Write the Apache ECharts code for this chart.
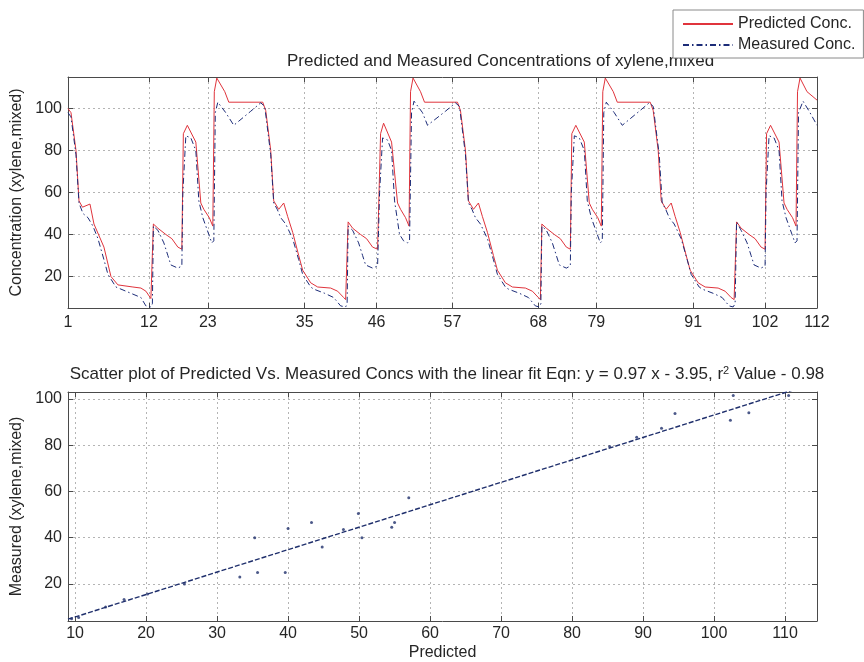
<!DOCTYPE html>
<html>
<head>
<meta charset="UTF-8">
<title>Predicted and Measured Concentrations of xylene,mixed</title>
<style>html,body{margin:0;padding:0;background:#fff;}</style>
</head>
<body>
<div id="main" style="width:864px;height:662px;"></div>
<script src="https://cdn.jsdelivr.net/npm/echarts@6/dist/echarts.min.js"></script>
<script>
// top chart: sample axis (arbitrary units 0..150), labels as printed on the figure
var sampleTickPos = [0, 16.2, 28, 47.4, 61.8, 77, 94.2, 105.8, 125.2, 139.6, 150];
var sampleTickLabels = ['1', '12', '23', '35', '46', '57', '68', '79', '91', '102', '112'];
var concTicks = [20, 40, 60, 80, 100];

// [sample, concentration]
var predicted = [
  [0,100],[0.6,98],[1.6,80],[2.2,56],[2.9,53],[4.4,54.5],[5.2,45],[7.2,34],[8.6,20],[10,16],[13,15],[14.6,14.5],[15.6,13],[16.6,9.5],
  [17.1,45],[18,43],[19.6,40],[20.8,38],[22,34],[22.8,33],[23.1,88],[23.9,92],[25.6,84],[26.6,55],[27.2,52],[28.3,48],[29,44],[29.3,108],[29.8,114.5],[31.4,108],[32.2,103],[39,103],[39.6,99],[40.6,80],[41.2,56],[42.2,52],[43.2,55],[44,48.5],[45,41],[46.2,30],[47,23],[48.6,17],[50,15],[52.6,14.5],[54,13],[55.2,10],[55.6,9],
  [56.1,46],[57,43],[58.6,40],[59.8,38],[61,34],[62,33],[62.6,88],[63.2,93],[64.8,84],[66,55],[66.6,52],[67.6,48],[68.3,44],[68.6,108],[69.1,114.5],[70.6,108],[71.4,103],[78,103],[78.6,99],[79.6,80],[80.2,56],[81.2,52],[82.2,55],[83,48.5],[84,41],[85.2,30],[86,23],[87.6,17],[89,15],[91.6,14.5],[93,13],[94.2,10],[94.6,9],
  [94.9,45],[95.8,43],[97.4,40],[98.6,38],[99.8,34],[100.6,33],[100.9,88],[101.7,92],[103.4,84],[104.4,55],[105,52],[106.1,48],[106.8,44],[107.1,108],[107.6,114.5],[109.2,108],[110,103],[116.6,103],[117.2,99],[118.2,80],[118.8,56],[119.8,52],[120.8,55],[121.6,48.5],[122.6,41],[123.8,30],[124.6,23],[126.2,17],[127.6,15],[130.2,14.5],[131.6,13],[132.8,10],[133.4,9],
  [133.9,46],[134.8,43],[136.4,40],[137.6,38],[138.8,34],[139.6,33],[139.9,88],[140.7,92],[142.4,84],[143.4,55],[144,52],[145.1,48],[145.8,44],[146.1,108],[146.6,114.5],[148,108],[150,104]
];
var measured = [
  [0,98],[0.6,96],[1.6,78],[2.2,55],[3,50],[4,48],[5,44],[6,38],[7.2,28],[8,21],[9.6,15],[10.6,14],[12.6,12],[14.6,10],[15.6,6],[16.6,5.5],[16.9,7],
  [17.1,44],[18,42],[19.2,36],[20,30],[20.6,25.5],[22,24],[22.8,25],[23,60],[23.6,87],[24.6,86],[25.6,80],[26.2,56],[27,48],[28.2,40],[28.8,36],[29.2,37],[29.5,98],[30,103],[31.6,98],[33.2,92],[36.6,98.7],[38.6,102.7],[39.4,101],[40.6,78],[41.2,55],[41.9,52],[42.6,48],[43.6,45],[45,38],[46.2,28],[47,21],[48.6,15],[49.2,14],[51.4,12],[53.2,10],[54.6,6],[55.6,5.5],[55.9,7],
  [56.1,44],[57,42],[58.2,36],[59,30],[59.6,25.5],[61,24],[62,25],[62.4,60],[63,86],[64,85],[64.8,80],[65.4,56],[66.4,40],[67.2,37],[68,36],[68.4,37],[68.8,98],[69.3,103.5],[71,98],[72,92],[75.6,98.7],[77.6,102.7],[78.4,101],[79.6,78],[80.2,55],[80.9,52],[81.6,48],[82.6,45],[84,38],[85.2,28],[86,21],[87.6,15],[88.2,14],[90.4,12],[92.2,10],[93.6,6],[94.4,5.5],[94.7,7],
  [94.9,44],[95.8,42],[97,36],[97.8,30],[98.4,25.5],[99.8,24],[100.6,25],[100.8,60],[101.4,87],[102.4,86],[103.4,80],[104,56],[104.8,48],[106,40],[106.6,36],[107,37],[107.3,98],[107.8,103],[109.4,98],[111,92],[114.4,98.7],[116.4,102.7],[117.2,101],[118.4,78],[119,55],[119.7,52],[120.4,48],[121.4,45],[122.8,38],[124,28],[124.8,21],[126.4,15],[127,14],[129.2,12],[131,10],[132.4,6],[133.2,5.5],[133.6,7],
  [133.9,46],[134.8,42],[136,36],[136.8,30],[137.4,25.5],[138.8,24],[139.6,25],[139.8,60],[140.4,87],[141.4,86],[142.4,80],[143,56],[143.8,48],[145,40],[145.6,36],[146,37],[146.3,98],[147.2,103.5],[148.6,98],[150,92]
];

// bottom chart: [predicted, measured] pairs and the fit line end points
var scatterPts = [
  [9.5,5],[10.5,5.5],[14.3,10],[16.9,13.3],[20.2,15.7],[25.4,20],[33.2,23],[35.3,40],[35.7,25],[39.6,25],
  [40,44],[43.3,46.6],[44.8,36],[47.8,43.6],[49.9,50.5],[50.4,40],[54.6,44.5],[55,46.6],[57,57.3],
  [85.3,79.4],[89.1,83.4],[92.6,87.3],[94.5,93.7],[102.3,90.8],[102.7,101.5],[104.9,94],[110.5,101.5]
];
var fitLine = [[9, 4.78], [114.5, 107.12]];
var predTicks = [10, 20, 30, 40, 50, 60, 70, 80, 90, 100, 110];
var measTicks = [20, 40, 60, 80, 100];

var txt = '#262626';
var frame = '#4a4a4a';
var font = 'Liberation Sans';

function tickLabel(v) {
  for (var i = 0; i < sampleTickPos.length; i++) {
    if (Math.abs(sampleTickPos[i] - v) < 0.01) return sampleTickLabels[i];
  }
  return '';
}

function axis(o) {
  var a = {
    type: 'value', gridIndex: o.grid, position: o.pos, min: o.min, max: o.max,
    name: o.name || '', nameLocation: 'middle', nameGap: o.nameGap || 0,
    nameTextStyle: {fontSize: 16, color: txt, fontFamily: font},
    axisLine: {show: true, onZero: false, lineStyle: {color: frame, width: 1}},
    axisTick: {show: true, inside: true, length: 5, customValues: o.ticks, lineStyle: {color: frame}},
    axisLabel: {show: !o.mirror, customValues: o.ticks, fontSize: 16, color: txt, fontFamily: font, margin: o.margin || 6},
    splitLine: {show: !o.mirror, lineStyle: {type: [2, 3], color: '#b4b4b4', width: 1}}
  };
  if (o.fmt) a.axisLabel.formatter = o.fmt;
  return a;
}

var chart = echarts.init(document.getElementById('main'));
chart.setOption({
  backgroundColor: '#fff',
  animation: false,
  title: [
    {text: 'Predicted and Measured Concentrations of xylene,mixed', left: 282, top: 48, z: 2,
      textStyle: {fontSize: 17, fontWeight: 'normal', color: txt, fontFamily: font}},
    {text: 'Scatter plot of Predicted Vs. Measured Concs with the linear fit Eqn: y = 0.97 x - 3.95, r{s|2} Value - 0.98',
      left: 442, textAlign: 'center', top: 360, z: 2,
      textStyle: {fontSize: 17, fontWeight: 'normal', color: txt, fontFamily: font,
        rich: {s: {fontSize: 11, verticalAlign: 'top', padding: [0, 0, 8, 0], color: txt, fontFamily: font}}}}
  ],
  legend: {
    data: ['Predicted Conc.', 'Measured Conc.'],
    orient: 'vertical', left: 673, top: 10, z: 10,
    padding: [5, 8, 4, 9], itemWidth: 50, itemHeight: 12, itemGap: 3,
    itemStyle: {opacity: 0},
    backgroundColor: '#fff', borderColor: '#8a8a8a', borderWidth: 1,
    textStyle: {fontSize: 16, color: txt, fontFamily: font, lineHeight: 18}
  },
  grid: [
    {left: 68, right: 47, top: 77, height: 231},
    {left: 68, right: 47, top: 392, height: 230}
  ],
  xAxis: [
    axis({grid: 0, pos: 'bottom', min: 0, max: 150, ticks: sampleTickPos, fmt: tickLabel, margin: 7}),
    axis({grid: 0, pos: 'top', min: 0, max: 150, ticks: sampleTickPos, mirror: true}),
    axis({grid: 1, pos: 'bottom', min: 9, max: 114.5, ticks: predTicks, name: 'Predicted', nameGap: 24, margin: 5}),
    axis({grid: 1, pos: 'top', min: 9, max: 114.5, ticks: predTicks, mirror: true})
  ],
  yAxis: [
    axis({grid: 0, pos: 'left', min: 5, max: 115, ticks: concTicks, name: 'Concentration (xylene,mixed)', nameGap: 36}),
    axis({grid: 0, pos: 'right', min: 5, max: 115, ticks: concTicks, mirror: true}),
    axis({grid: 1, pos: 'left', min: 4, max: 103, ticks: measTicks, name: 'Measured (xylene,mixed)', nameGap: 36}),
    axis({grid: 1, pos: 'right', min: 4, max: 103, ticks: measTicks, mirror: true})
  ],
  series: [
    {name: 'Predicted Conc.', type: 'line', xAxisIndex: 0, yAxisIndex: 0, data: predicted,
      symbol: 'none', clip: true, lineStyle: {color: '#e0343c', width: 1}, itemStyle: {color: '#e0343c'}},
    {name: 'Measured Conc.', type: 'line', xAxisIndex: 0, yAxisIndex: 0, data: measured,
      symbol: 'none', clip: true, lineStyle: {color: '#1c2c78', width: 1, type: [6, 3, 1.5, 3]}, itemStyle: {color: '#1c2c78'}},
    {name: 'fit', type: 'line', xAxisIndex: 2, yAxisIndex: 2, data: fitLine,
      symbol: 'none', clip: true, lineStyle: {color: '#1f2f6c', width: 1.4, type: [5, 2]}},
    {name: 'points', type: 'scatter', xAxisIndex: 2, yAxisIndex: 2, data: scatterPts,
      symbolSize: 3, itemStyle: {color: '#1f2f6c'}}
  ]
});
</script>
</body>
</html>
